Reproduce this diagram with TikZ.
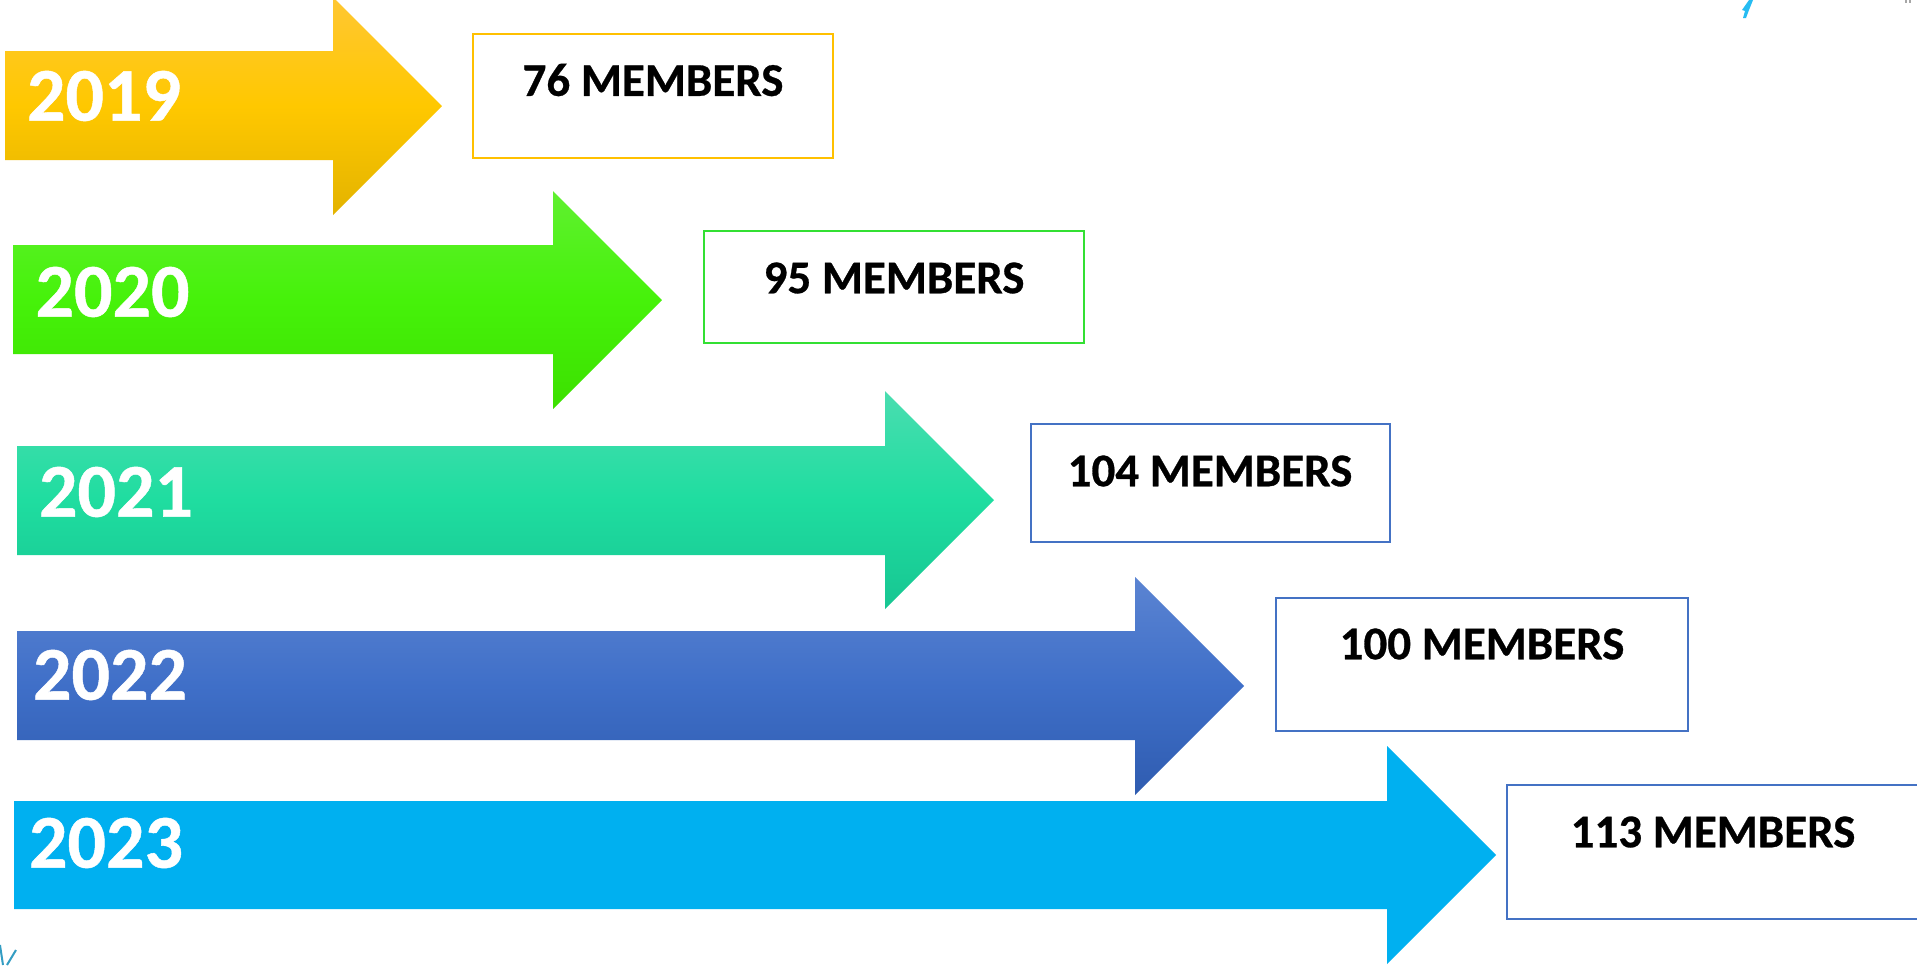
\documentclass[tikz,border=0pt]{standalone}
\usepackage{fontspec}
\setmainfont{Carlito}[BoldFeatures={FakeBold=0.6}]
\definecolor{yA}{HTML}{FFC733}\definecolor{yB}{HTML}{FFC800}\definecolor{yC}{HTML}{E3B300}
\definecolor{gA}{HTML}{60F030}\definecolor{gB}{HTML}{46F20A}\definecolor{gC}{HTML}{3CE000}
\definecolor{tA}{HTML}{4ADDB0}\definecolor{tB}{HTML}{1FDDA0}\definecolor{tC}{HTML}{17C692}
\definecolor{bA}{HTML}{5B84D2}\definecolor{bB}{HTML}{3F6FC8}\definecolor{bC}{HTML}{2F5CB0}
\definecolor{cy}{HTML}{00B0F0}
\definecolor{boxblue}{HTML}{4472C4}
\definecolor{boxyel}{HTML}{FFC000}
\definecolor{boxgrn}{HTML}{33E033}
\tikzset{
  x=0.5pt,y=-0.5pt,
  yearlabel/.style={inner sep=0pt,text=white,font=\fontsize{38}{38}\selectfont\bfseries},
  memberlabel/.style={inner sep=0pt,text=black,font=\fontsize{23.5}{24}\selectfont\bfseries},
  memberbox/.style={line width=0.55pt,fill=white},
  arrowshade/.style n args={3}{top color=#1,bottom color=#3,middle color=#2,draw=none},
}
\begin{document}
\begin{tikzpicture}
\useasboundingbox (0,0) rectangle (1917,965);
\clip (0,0) rectangle (1917,965);
\fill[white] (0,0) rectangle (1917,965);
% arrows
\path[arrowshade={yA}{yB}{yC}] (5,51) -- (333,51) -- (333,-3) -- (442,106) -- (333,215) -- (333,160) -- (5,160) -- cycle;
\path[arrowshade={gA}{gB}{gC}] (13,245) -- (553,245) -- (553,191) -- (662,300) -- (553,409) -- (553,354) -- (13,354) -- cycle;
\path[arrowshade={tA}{tB}{tC}] (17,446) -- (885,446) -- (885,391) -- (994,500) -- (885,609) -- (885,555) -- (17,555) -- cycle;
\path[arrowshade={bA}{bB}{bC}] (17,631) -- (1135,631) -- (1135,577) -- (1244,686) -- (1135,795) -- (1135,740) -- (17,740) -- cycle;
\fill[cy] (14,801) -- (1387,801) -- (1387,746) -- (1496,855) -- (1387,964) -- (1387,909) -- (14,909) -- cycle;
% boxes
\draw[memberbox,draw=boxyel] (473,34) rectangle (833,158);
\draw[memberbox,draw=boxgrn] (704,231) rectangle (1084,343);
\draw[memberbox,draw=boxblue] (1031,424) rectangle (1390,542);
\draw[memberbox,draw=boxblue] (1276,598) rectangle (1688,731);
\draw[memberbox,draw=boxblue] (1507,785) rectangle (1925,919);
% labels
\node[yearlabel] (y19) at (104,96) {2019};
\node[yearlabel] (y20) at (112.5,292) {2020};
\node[yearlabel] (y21) at (116,492) {2021};
\node[yearlabel] (y22) at (110,675) {2022};
\node[yearlabel] (y23) at (106,843) {2023};
\node[memberlabel] (m19) at (653,80) {76 MEMBERS};
\node[memberlabel] (m20) at (894,278) {95 MEMBERS};
\node[memberlabel] (m21) at (1210,471) {104 MEMBERS};
\node[memberlabel] (m22) at (1482,644) {100 MEMBERS};
\node[memberlabel] (m23) at (1713,832) {113 MEMBERS};
% cropped logo fragments
\fill[cy!85!white] (1749,0) -- (1753,0) -- (1749,10) -- (1746,18) -- (1743,18) -- (1745,11) -- (1742,10) -- cycle;
\draw[gray!70,line width=0.6pt] (1906,0) -- (1906,3) (1910,0) -- (1910,3);
\draw[cy!60!gray,line width=1pt] (0,945) -- (3,965) (16,950) -- (7,965);
\end{tikzpicture}
\end{document}
